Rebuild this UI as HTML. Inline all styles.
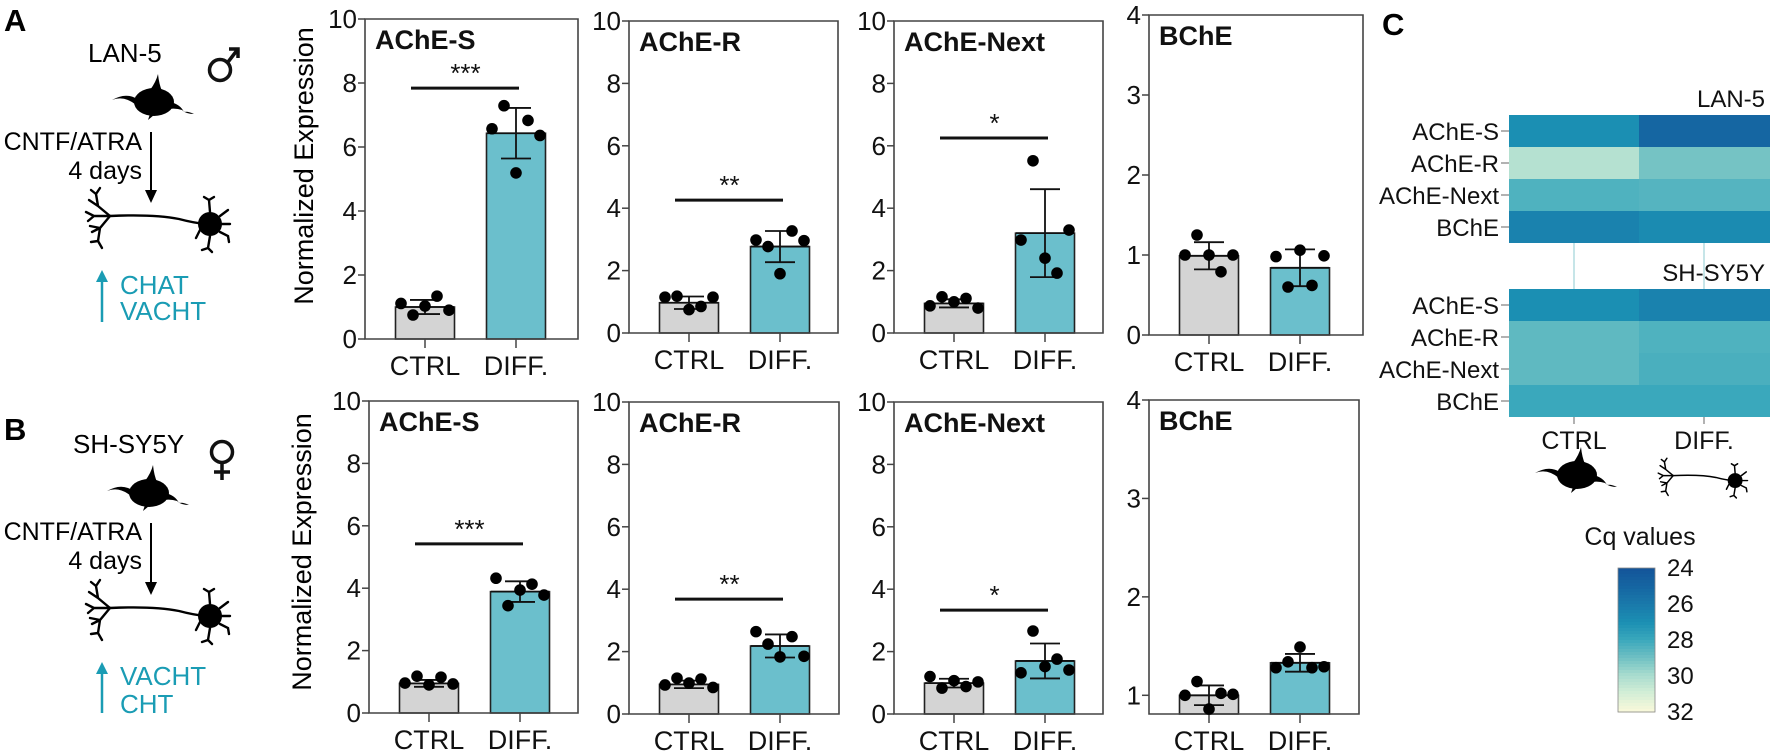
<!DOCTYPE html>
<html><head><meta charset="utf-8">
<style>
html,body{margin:0;padding:0;background:#fff;}
svg{display:block;font-family:"Liberation Sans",Arial,sans-serif;}
</style></head>
<body>
<svg id="fig" xmlns="http://www.w3.org/2000/svg" width="1772" height="756" viewBox="0 0 1772 756">
<defs>
  <g id="soma-icon">
    <ellipse cx="42" cy="28" rx="20" ry="14" fill="#000"/>
    <path d="M38,16 Q44,8 46,0 Q47,10 50,17 Z" fill="#000"/>
    <path d="M25,25 Q14,18 0,26 Q12,21 24,31 Z" fill="#000"/>
    <path d="M58,28 Q68,30 72,38 Q76,37 82,40 Q74,40 70,36 Q64,34 57,35 Z" fill="#000"/>
    <path d="M38,40 L36,46 L42,41 Z" fill="#000"/>
  </g>
  <g id="neuron-icon" fill="none" stroke="#000" stroke-width="2.4" stroke-linecap="round">
    <path d="M26,30 Q70,28 95,33 Q110,37 122,38"/>
    <path d="M26,30 L14,20 L12,8 M14,20 L5,14 M12,8 L16,2 M12,8 L7,4"/>
    <path d="M26,30 L10,30 L2,26 M10,30 L4,35"/>
    <path d="M26,30 L16,42 L8,46 M16,42 L14,55 L18,62 M14,55 L7,56 M16,42 L6,40"/>
    <circle cx="126" cy="38" r="12" fill="#000" stroke="none"/>
    <path d="M126,26 L125,14 L130,11 M125,14 L120,11 M136,30 L144,24 M136,46 L144,50 L145,56 M126,50 L124,62 L128,66 M124,62 L118,64 M116,44 L112,52 M138,38 L146,38"/>
  </g>
</defs>

<!-- Panel A left -->
<g>
  <text x="4" y="31" font-size="31" font-weight="bold">A</text>
  <text x="88" y="62" font-size="26">LAN-5</text>
  <g fill="none" stroke="#111" stroke-width="3.5">
    <circle cx="220" cy="70" r="10.5"/>
    <path d="M228,62 L238,49 M229,49 L238,49 L238,58"/>
  </g>
  <use href="#soma-icon" x="112" y="74"/>
  <text x="142" y="150" font-size="25" text-anchor="end">CNTF/ATRA</text>
  <text x="142" y="179" font-size="25" text-anchor="end">4 days</text>
  <line x1="151" y1="132" x2="151" y2="196" stroke="#000" stroke-width="2"/>
  <path d="M145,190 L151,203 L157,190 Z" fill="#000"/>
  <use href="#neuron-icon" x="84" y="186"/>
  <line x1="102" y1="322" x2="102" y2="276" stroke="#1a9cb4" stroke-width="2.5"/>
  <path d="M96,282 L102,270 L108,282 Z" fill="#1a9cb4"/>
  <text x="120" y="294" font-size="26" fill="#1a9cb4">CHAT</text>
  <text x="120" y="320" font-size="26" fill="#1a9cb4">VACHT</text>
</g>

<!-- Panel B left -->
<g>
  <text x="4" y="440" font-size="31" font-weight="bold">B</text>
  <text x="73" y="453" font-size="26">SH-SY5Y</text>
  <g fill="none" stroke="#111" stroke-width="3.5">
    <circle cx="222" cy="452" r="10.5"/>
    <path d="M222,463 L222,480 M214,472 L230,472"/>
  </g>
  <use href="#soma-icon" x="107" y="465"/>
  <text x="142" y="540" font-size="25" text-anchor="end">CNTF/ATRA</text>
  <text x="142" y="569" font-size="25" text-anchor="end">4 days</text>
  <line x1="151" y1="523" x2="151" y2="588" stroke="#000" stroke-width="2"/>
  <path d="M145,582 L151,595 L157,582 Z" fill="#000"/>
  <use href="#neuron-icon" x="84" y="578"/>
  <line x1="102" y1="713" x2="102" y2="668" stroke="#1a9cb4" stroke-width="2.5"/>
  <path d="M96,674 L102,662 L108,674 Z" fill="#1a9cb4"/>
  <text x="120" y="685" font-size="26" fill="#1a9cb4">VACHT</text>
  <text x="120" y="713" font-size="26" fill="#1a9cb4">CHT</text>
</g>

<text transform="translate(313,166) rotate(-90)" font-size="27" text-anchor="middle">Normalized Expression</text>
<text transform="translate(311,552) rotate(-90)" font-size="27" text-anchor="middle">Normalized Expression</text>

<text x="1382" y="35" font-size="31" font-weight="bold">C</text>

<g id="charts"></g>
<g id="heat"></g>
</svg>

<script>
// ---------- bar chart data ----------
const categories = ['CTRL', 'DIFF.'];
const panelTitles = ['AChE-S', 'AChE-R', 'AChE-Next', 'BChE'];
const topMeans = [[1.0, 6.43], [0.97, 2.77], [0.95, 3.2], [0.99, 0.84]];
const topSD = [[0.22, 0.79], [0.2, 0.5], [0.13, 1.41], [0.17, 0.23]];
const topPointsCtrl = [[1.11, 0.75, 1.03, 1.34, 0.9], [1.15, 1.18, 0.75, 0.85, 1.15], [0.87, 1.16, 1.0, 1.11, 0.8], [1.0, 1.25, 1.0, 0.79, 1.0]];
const topPointsDiff = [[6.57, 7.29, 5.19, 6.83, 6.36], [2.98, 2.77, 1.9, 3.27, 2.96], [2.98, 5.52, 2.4, 1.92, 3.3], [0.98, 0.6, 1.06, 0.62, 0.99]];
const topSig = [7.84, 4.26, 6.25, null];
const bottomMeans = [[0.95, 3.89], [0.95, 2.18], [0.99, 1.7], [1.0, 1.33]];
const bottomSD = [[0.11, 0.33], [0.12, 0.37], [0.14, 0.56], [0.1, 0.09]];
const bottomPointsCtrl = [[0.96, 1.18, 0.9, 1.15, 0.93], [0.93, 1.15, 0.99, 1.12, 0.85], [1.2, 0.83, 1.07, 0.88, 1.03], [1.0, 1.14, 0.86, 1.02, 1.01]];
const bottomPointsDiff = [[4.32, 3.44, 3.94, 4.13, 3.78], [2.64, 2.24, 1.83, 2.48, 1.85], [1.32, 2.66, 1.52, 1.76, 1.41], [1.28, 1.34, 1.49, 1.28, 1.29]];
const bottomSig = [5.42, 3.68, 3.33, null];
const sigLabels = ['***', '**', '*', ''];
const tickLabels10 = [0, 2, 4, 6, 8, 10];
const tickLabelsTopBChE = [0, 1, 2, 3, 4];
const tickLabelsBottomBChE = [1, 2, 3, 4];

// ---------- heatmap data ----------
const heatRows = ['AChE-S', 'AChE-R', 'AChE-Next', 'BChE'];
const lanCq = [[27.0, 25.0], [30.3, 29.1], [28.4, 28.5], [26.4, 26.8]];
const shCq = [[27.0, 26.4], [28.7, 28.4], [28.7, 28.3], [28.0, 28.0]];
const colorbarTicks = [24, 26, 28, 30, 32];

// ---------- layout (not data) ----------
const layout = [
  {x0:365,x1:578,top:19,bot:339,min:0,max:10},
  {x0:629,x1:838,top:21,bot:333,min:0,max:10},
  {x0:894,x1:1103,top:21,bot:333,min:0,max:10},
  {x0:1149,x1:1363,top:15,bot:335,min:0,max:4},
  {x0:369,x1:578,top:401,bot:713,min:0,max:10},
  {x0:629,x1:839,top:402,bot:714,min:0,max:10},
  {x0:894,x1:1103,top:402,bot:714,min:0,max:10},
  {x0:1149,x1:1359,top:400,bot:714,min:0.81,max:4}
];
const jitter = [-24, -12, 0, 12, 24];
const NS = 'http://www.w3.org/2000/svg';
function mk(tag, attrs, parent) {
  const e = document.createElementNS(NS, tag);
  for (const k in attrs) e.setAttribute(k, attrs[k]);
  parent.appendChild(e);
  return e;
}
const charts = document.getElementById('charts');

for (let i = 0; i < 8; i++) {
  const L = layout[i];
  const row = i < 4 ? 0 : 1;
  const k = i % 4;
  const means = row ? bottomMeans[k] : topMeans[k];
  const sds = row ? bottomSD[k] : topSD[k];
  const pts = [row ? bottomPointsCtrl[k] : topPointsCtrl[k], row ? bottomPointsDiff[k] : topPointsDiff[k]];
  const sig = row ? bottomSig[k] : topSig[k];
  const ticks = k < 3 ? tickLabels10 : (row ? tickLabelsBottomBChE : tickLabelsTopBChE);
  const y = v => L.bot - (v - L.min) / (L.max - L.min) * (L.bot - L.top);
  const xc = j => L.x0 + (j === 0 ? 60 : 151);

  const g = mk('g', {}, charts);
  
  

  for (let j = 0; j < 2; j++) {
    const b = mk('rect', {x: xc(j) - 29.5, y: y(means[j]), width: 59, height: L.bot - y(means[j]),
      fill: j === 0 ? '#d4d4d4' : '#6bbfcc', stroke: '#222', 'stroke-width': 1.6}, g);
    
    
  }
  const fr = mk('path', {d: `M${L.x0},${L.top}H${L.x1}V${L.bot}H${L.x0}Z`, fill: 'none', stroke: '#444', 'stroke-width': 1.6}, g);
  
  
  ticks.forEach(t => {
    mk('line', {x1: L.x0 - 7, x2: L.x0, y1: y(t), y2: y(t), stroke: '#444', 'stroke-width': 1.5}, g);
    const tl = mk('text', {x: L.x0 - 8, y: y(t) + 9, 'font-size': 26, 'text-anchor': 'end', fill: '#111'}, g);
    tl.textContent = t;
    
    
  });
  for (let j = 0; j < 2; j++) {
    mk('line', {x1: xc(j), x2: xc(j), y1: L.bot, y2: L.bot + 9, stroke: '#444', 'stroke-width': 1.5}, g);
    const xl = mk('text', {x: xc(j), y: L.bot + 36, 'font-size': 27, 'text-anchor': 'middle', fill: '#111'}, g);
    xl.textContent = categories[j];
    
    
  }
  for (let j = 0; j < 2; j++) {
    const cx = xc(j), hi = y(means[j] + sds[j]), lo = y(means[j] - sds[j]);
    const eb = mk('path', {d: `M${cx},${hi}V${lo}M${cx - 15},${hi}H${cx + 15}M${cx - 15},${lo}H${cx + 15}M${cx - 29},${y(means[j])}H${cx + 29}`, stroke: '#111', 'stroke-width': 1.8, fill: 'none'}, g);
    
    
    pts[j].forEach((v, p) => {
      const c = mk('circle', {cx: cx + jitter[p], cy: y(v), r: 5.8, fill: '#000'}, g);
      
      
    });
  }
  const tt = mk('text', {x: L.x0 + 10, y: L.top + 30, 'font-size': 27, 'font-weight': 'bold', fill: '#111'}, g);
  tt.textContent = panelTitles[k];
  
  
  if (sig !== null) {
    const sy = y(sig);
    const sl = mk('line', {x1: xc(0) - 14, x2: xc(1) + 3, y1: sy, y2: sy, stroke: '#111', 'stroke-width': 3}, g);
    
    
    const st = mk('text', {x: (xc(0) + xc(1)) / 2 - 5, y: sy - 6, 'font-size': 26, 'text-anchor': 'middle', fill: '#111'}, g);
    st.textContent = sigLabels[k];
    
    
  }
}

// ---------- heatmap ----------
const stops = [[24,[20,85,154]],[25,[21,102,162]],[26,[26,122,171]],[27,[27,143,179]],[28,[58,168,188]],[29,[111,192,195]],[30,[168,220,207]],[31,[211,238,214]],[32,[247,248,218]]];
function cmap(v) {
  v = Math.max(24, Math.min(32, v));
  for (let s = 0; s < stops.length - 1; s++) {
    if (v <= stops[s + 1][0]) {
      const t = (v - stops[s][0]) / (stops[s + 1][0] - stops[s][0]);
      const c = stops[s][1].map((a, q) => Math.round(a + (stops[s + 1][1][q] - a) * t));
      return `rgb(${c.join(',')})`;
    }
  }
  return 'rgb(247,248,218)';
}
const heat = document.getElementById('heat');
const hx0 = 1509, hx1 = 1770, hmid = 1639;
const blocks = [{data: lanCq, top: 115, name: 'LAN-5'}, {data: shCq, top: 289, name: 'SH-SY5Y'}];
const rowH = 32;
blocks.forEach((B, bi) => {
  const g = mk('g', {}, heat);
  
  
  B.data.forEach((row, r) => {
    row.forEach((v, c) => {
      const cell = mk('rect', {x: c ? hmid : hx0, y: B.top + r * rowH, width: c ? hx1 - hmid : hmid - hx0, height: rowH, fill: cmap(v)}, g);
      
      
    });
    mk('line', {x1: hx0 - 8, x2: hx0, y1: B.top + r * rowH + 16, y2: B.top + r * rowH + 16, stroke: '#666', 'stroke-width': 1}, g);
    const rl = mk('text', {x: hx0 - 10, y: B.top + r * rowH + 25, 'font-size': 24, 'text-anchor': 'end', fill: '#111'}, g);
    rl.textContent = heatRows[r];
    
    
  });
  const bl = mk('text', {x: 1765, y: B.top - 8, 'font-size': 24, 'text-anchor': 'end', fill: '#111'}, g);
  bl.textContent = B.name;
  
  
});
[1574, 1704].forEach(x => {
  mk('line', {x1: x, x2: x, y1: 243, y2: 289, stroke: '#9fd3d8', 'stroke-width': 1.2}, heat);
  mk('line', {x1: x, x2: x, y1: 417, y2: 424, stroke: '#666', 'stroke-width': 1}, heat);
});
categories.forEach((c, j) => {
  const t = mk('text', {x: j ? 1704 : 1574, y: 449, 'font-size': 25, 'text-anchor': 'middle', fill: '#111'}, heat);
  t.textContent = c;
  
  
});
const u1 = mk('use', {href: '#soma-icon', x: 1535, y: 447}, heat);


const u2 = mk('use', {href: '#neuron-icon', transform: 'translate(1657,457) scale(0.62)'}, heat);



const cbx = 1618, cbw = 37, cbTop = 568, cbBot = 712;
const cb = mk('g', {}, heat);


const cbTitle = mk('text', {x: 1640, y: 545, 'font-size': 25, 'text-anchor': 'middle', fill: '#111'}, cb);
cbTitle.textContent = 'Cq values';


const nSteps = 48;
for (let s = 0; s < nSteps; s++) {
  const v = 24 + 8 * s / (nSteps - 1);
  mk('rect', {x: cbx, y: cbTop + (cbBot - cbTop) * s / nSteps, width: cbw, height: (cbBot - cbTop) / nSteps + 0.6, fill: cmap(v)}, cb);
}
mk('rect', {x: cbx, y: cbTop, width: cbw, height: cbBot - cbTop, fill: 'none', stroke: '#888', 'stroke-width': 0.8}, cb);
colorbarTicks.forEach(t => {
  const ty = cbTop + (t - 24) / 8 * (cbBot - cbTop);
  const tl = mk('text', {x: 1667, y: ty + 8, 'font-size': 24, fill: '#111'}, cb);
  tl.textContent = t;
  
  
});
</script>
</body></html>
